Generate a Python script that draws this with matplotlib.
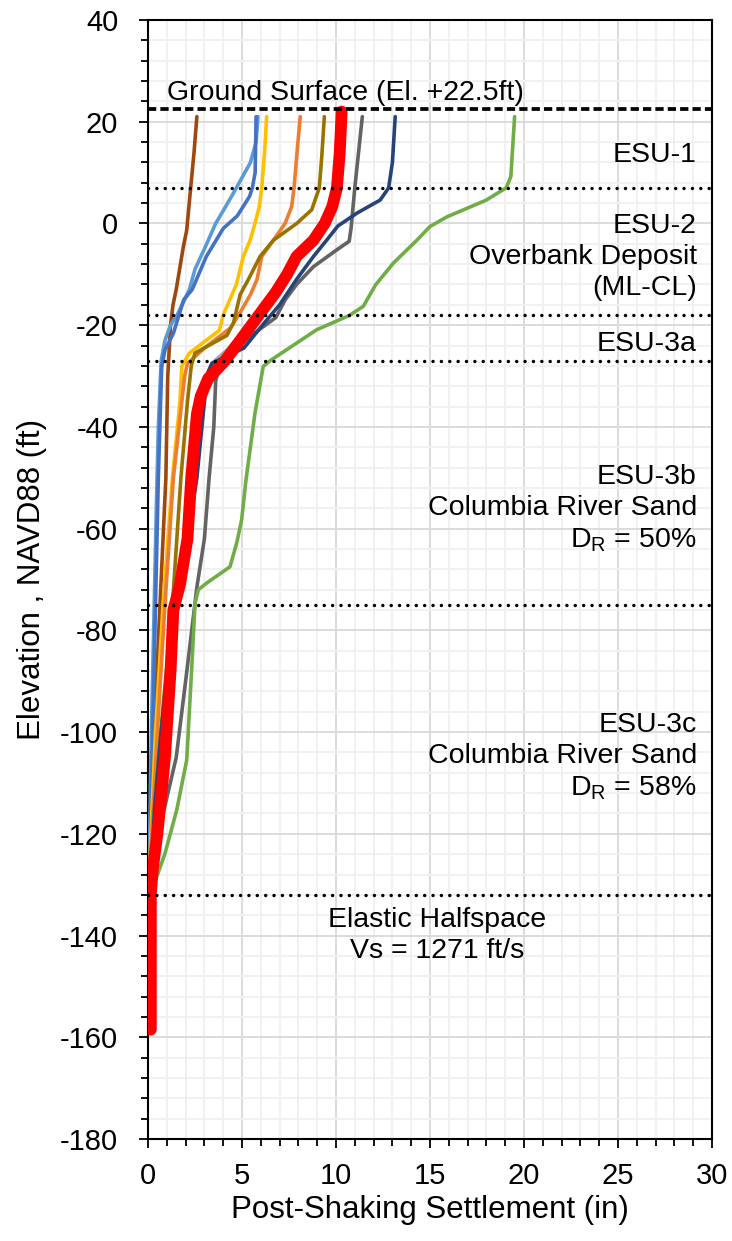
import matplotlib
matplotlib.use("Agg")
import matplotlib.pyplot as plt
from matplotlib.ticker import MultipleLocator

plt.rcParams['font.family'] = ['Liberation Sans', 'DejaVu Sans']
plt.rcParams['mathtext.fontset'] = 'custom'
plt.rcParams['mathtext.rm'] = 'Liberation Sans'
plt.rcParams['axes.unicode_minus'] = False

# ---------------- data (settlement in inches, elevation in ft) ----------------
brown_x = [2.6, 2.45, 2.27, 2.06, 1.88, 1.5, 1.33, 1.2, 1.05, 0.95, 0.7, 0.5, 0.3, 0.15, 0.05]
brown_y = [21, 14, 7, -1.3, -4.6, -13, -16, -20, -30, -50, -70, -86, -105, -120, -131]

lblue_x = [5.85, 5.75, 5.45, 5.0, 4.55, 4.0, 3.6, 3.0, 2.5, 2.2, 1.55, 1.2, 0.9, 0.7, 0.55, 0.45, 0.3, 0.15, 0.05]
lblue_y = [21, 16, 12, 9, 6, 2.5, 0, -5, -9, -13, -18, -20, -23, -27, -40, -55, -80, -105, -131]

mblue_x = [5.75, 5.7, 5.55, 5.4, 4.75, 4.0, 3.1, 2.35, 1.9, 1.35, 0.9, 0.73, 0.67, 0.55, 0.4, 0.25, 0.05]
mblue_y = [21, 10, 7, 5.3, 1.5, -1, -6.5, -13, -15, -21.6, -24.9, -28.2, -35, -50, -75, -100, -131]

yellow_x = [6.31, 6.2, 6.05, 5.92, 5.69, 5.43, 5.07, 4.7, 4.0, 3.8, 2.2, 1.8, 1.7, 1.3, 0.8, 0.4, 0.15, 0.05]
yellow_y = [21, 14, 7, 3.3, 0, -3.3, -6.5, -12, -18, -21, -25.5, -28, -35, -50, -75, -100, -120, -131]

orange_x = [8.1, 7.95, 7.77, 7.64, 7.29, 6.67, 6.05, 5.8, 5.45, 4.9, 4.4, 3.1, 2.1, 1.95, 1.35, 0.9, 0.5, 0.2, 0.05]
orange_y = [21, 15, 7, 3.3, 0, -3.3, -6.5, -11, -14, -17.5, -20.5, -24.2, -27.5, -30, -50, -75, -100, -120, -131]

olive_x = [9.38, 9.24, 9.11, 8.71, 7.91, 6.67, 5.96, 5.34, 4.9, 4.55, 4.2, 2.5, 2.3, 2.1, 1.75, 1.3, 0.8, 0.4, 0.1]
olive_y = [21, 13, 7, 2.7, 0, -3.3, -6.5, -11, -14, -19.5, -22, -25.5, -28, -35, -50, -75, -95, -112, -128]

lgray_x = [10.1, 10.0, 9.6, 8.9, 7.8, 7.2, 6.5, 5.5, 4.2, 3.4, 3.2, 3.0, 2.5, 2.0, 1.5, 1.0, 0.6, 0.25, 0.1]
lgray_y = [21, 7, 0, -3.5, -7, -10, -14, -19.5, -24.9, -27.5, -30.8, -35, -50, -62, -75, -90, -105, -120, -130]

dgray_x = [11.4, 11.2, 11.0, 10.8, 10.7, 10.0, 8.8, 7.9, 7.3, 6.8, 5.5, 4.3, 3.85, 3.6, 3.5, 3.25, 3.0, 2.6, 2.1, 1.5, 0.65, 0.2, 0.1]
dgray_y = [21, 14, 7, -1, -3.5, -5.3, -8.5, -12, -15, -18.5, -22, -25.5, -27.5, -31, -40, -50, -62, -71.5, -87, -105, -118.5, -128.5, -132]

dblue_x = [13.15, 13.0, 12.8, 12.35, 11.1, 10.1, 9.5, 8.8, 7.9, 7.0, 6.2, 5.1, 3.4, 3.1, 3.0, 2.6, 2.1, 1.6, 1.1, 0.7, 0.35, 0.15, 0.1]
dblue_y = [21, 12, 7, 4.6, 2, -0.5, -3.3, -6.5, -11, -16, -19.5, -24.5, -27.5, -30, -35, -50, -62, -72, -85, -100, -115, -128, -132]

green_x = [19.5, 19.3, 19.05, 18.0, 15.9, 15.0, 14.3, 13.05, 12.1, 11.45, 10.7, 8.97, 6.49, 6.13, 5.69, 5.21, 4.98, 4.72, 4.36, 3.12, 2.68, 2.5, 2.32, 2.06, 1.53, 0.9, 0.46, 0.1]
green_y = [21, 9.2, 7, 4.6, 1.3, -0.6, -3.3, -7.8, -12.1, -16.3, -18.1, -20.9, -27, -28.1, -37.3, -50.5, -58.3, -62.8, -67.5, -70.7, -72, -74.7, -87.8, -105.5, -115.3, -123.9, -128.5, -132]

mean_x = [10.3, 10.2, 10.05, 9.8, 9.4, 8.8, 7.9, 7.4, 6.8, 6.0, 4.9, 4.1, 3.2, 2.8, 2.6, 2.3, 2.1, 1.7, 1.35, 1.2, 0.9, 0.5, 0.25, 0.15, 0.15]
mean_y = [22, 14, 7, 3.3, 0, -3.3, -6.5, -10, -13.5, -17.5, -23, -27, -30.5, -34, -37.5, -50, -62, -71, -76, -88, -105, -120, -127, -132, -158.5]

ground_elev = 22.5
layer_elevs = [7, -18, -27, -75, -132]

layer_labels = ["ESU-1",
                "ESU-2\nOverbank Deposit\n(ML-CL)",
                "ESU-3a",
                "ESU-3b\nColumbia River Sand\nD$_\\mathregular{R}$ = 50%",
                "ESU-3c\nColumbia River Sand\nD$_\\mathregular{R}$ = 58%"]
layer_label_elevs = [13.4, -6.6, -23.7, -56.2, -104.9]
halfspace_label = "Elastic Halfspace\nVs = 1271 ft/s"
ground_label = "Ground Surface (El. +22.5ft)"

x_ticks = [0, 5, 10, 15, 20, 25, 30]
y_ticks = [-180, -160, -140, -120, -100, -80, -60, -40, -20, 0, 20, 40]

# ---------------- figure ----------------
fig = plt.figure(figsize=(7.32, 12.41), dpi=100)
ax = fig.add_axes([148/732, 102/1241, 564/732, 1119/1241])

ax.set_xlim(0, 30)
ax.set_ylim(-180, 40)
ax.set_xticks(x_ticks)
ax.set_yticks(y_ticks)
ax.xaxis.set_minor_locator(MultipleLocator(1))
ax.yaxis.set_minor_locator(MultipleLocator(4))

ax.grid(which='minor', color='#F0F0F0', lw=1.3, zorder=0)
ax.grid(which='major', color='#D9D9D9', lw=1.3, zorder=0)
ax.set_axisbelow(True)

thin = [
    (brown_x, brown_y, '#9E480E'),
    (lblue_x, lblue_y, '#5B9BD5'),
    (mblue_x, mblue_y, '#4472C4'),
    (yellow_x, yellow_y, '#FFC000'),
    (orange_x, orange_y, '#ED7D31'),
    (olive_x, olive_y, '#997300'),
    (lgray_x, lgray_y, '#A5A5A5'),
    (dgray_x, dgray_y, '#636363'),
    (dblue_x, dblue_y, '#264478'),
    (green_x, green_y, '#70AD47'),
]
for xs, ys, c in thin:
    ax.plot(xs, ys, color=c, lw=2.6, solid_joinstyle='round', solid_capstyle='round', zorder=3)

ax.plot(mean_x, mean_y, color='#FF0000', lw=8.5, solid_joinstyle='round', solid_capstyle='round', zorder=4)

ax.axhline(ground_elev, color='black', lw=2.7, linestyle=(0, (2.2, 1.1)), zorder=5)
for e in layer_elevs:
    ax.axhline(e, color='black', lw=2.5, linestyle=(0, (0.01, 2.4)), dash_capstyle='round', zorder=5)

ax.text(10.5, 25.6, ground_label, ha='center', va='center', fontsize=20.5, zorder=6)
for lab, e in zip(layer_labels, layer_label_elevs):
    ax.text(29.2, e, lab, ha='right', va='center', fontsize=20.5, linespacing=1.25, zorder=6)
ax.text(15.4, -139.9, halfspace_label, ha='center', va='center', fontsize=20.5, linespacing=1.25, zorder=6)

for s in ax.spines.values():
    s.set_color('black')
    s.set_linewidth(1.5)

ax.tick_params(axis='both', which='major', direction='out', length=6.5, width=1.3, labelsize=21, color='black')
ax.tick_params(axis='both', which='minor', direction='out', length=5, width=1.3, color='black')
ax.tick_params(axis='y', which='major', pad=15)
ax.tick_params(axis='x', which='major', pad=10)

ax.set_xlabel("Post-Shaking Settlement (in)", fontsize=22.5, va='center')
ax.xaxis.set_label_coords(0.5, (1139 - 1210) / 1119)
ax.set_ylabel("Elevation , NAVD88 (ft)", fontsize=22.5, va='center')
ax.yaxis.set_label_coords((32 - 148) / 564, 0.5)

fig.savefig("out.png", dpi=100)
